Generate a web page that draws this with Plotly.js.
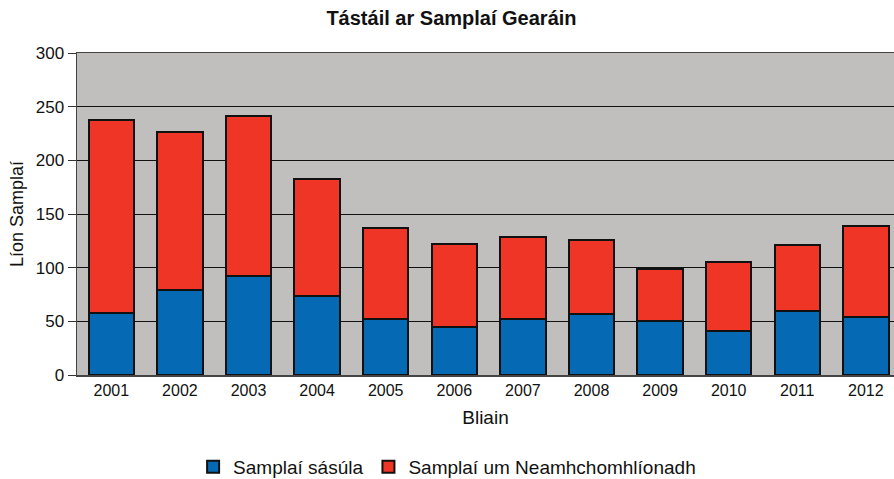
<!DOCTYPE html>
<html>
<head>
<meta charset="utf-8">
<script src="https://cdn.plot.ly/plotly-3.0.1.min.js"></script>
<style>html,body{margin:0;padding:0;background:#fff;}#chart{width:894px;height:479px;}</style>
</head>
<body>
<div id="chart"></div>
<script>
const years = ['2001','2002','2003','2004','2005','2006','2007','2008','2009','2010','2011','2012'];
const satisfactory = [58, 79, 92, 74, 52, 45, 52, 57, 50, 41, 60, 54];
const nonCompliant = [180, 147, 149, 109, 85, 77, 77, 69, 49, 64, 61, 85];
const seriesNames = ['Samplaí sásúla', 'Samplaí um Neamhchomhlíonadh'];
const chartTitle = 'Tástáil ar Samplaí Gearáin';
const xTitle = 'Bliain';
const yTitle = 'Líon Samplaí';

const font = 'Liberation Sans, Arial, sans-serif';
const traces = [
  {type:'bar', x: years, y: satisfactory, name: seriesNames[0], width: 0.66,
   marker:{color:'#0569b3', line:{color:'#111', width:2}}},
  {type:'bar', x: years, y: nonCompliant, name: seriesNames[1], width: 0.66,
   marker:{color:'#ee3526', line:{color:'#111', width:2}}}
];
const layout = {
  width: 894, height: 479,
  barmode: 'stack',
  paper_bgcolor: '#ffffff',
  plot_bgcolor: '#c0bfbd',
  margin: {l: 77, r: 0, t: 53, b: 104, autoexpand: false},
  font: {family: font, color: '#111'},
  title: {text: '<b>' + chartTitle + '</b>', font: {size: 20, family: font, color:'#111'}, x: 0.505, xref: 'container', y: 0.962, yanchor: 'middle'},
  xaxis: {
    type: 'category', range: [-0.5, 11.41], fixedrange: true,
    showline: true, linecolor: '#444', linewidth: 1.5, mirror: true,
    ticks: '', showgrid: false, tickangle: 0,
    tickfont: {size: 16, color:'#111'},
    title: {text: xTitle, font: {size: 19, color:'#111'}, standoff: 13}
  },
  yaxis: {
    range: [0, 300], dtick: 50, fixedrange: true,
    showline: true, linecolor: '#444', linewidth: 1.5,
    ticks: 'outside', ticklen: 8, tickcolor: '#333', tickwidth: 1,
    showgrid: true, gridcolor: '#111', gridwidth: 1,
    zeroline: false,
    tickfont: {size: 17, color:'#111'},
    title: {text: yTitle, font: {size: 18, color:'#111'}, standoff: 7}
  },
  legend: {orientation: 'h', x: 0.453, xref: 'paper', xanchor: 'center', y: -0.2857, yref:'paper', yanchor: 'middle',
    font: {size: 19, color:'#111'}, traceorder: 'normal', itemwidth: 30, itemclick: false},
  showlegend: true
};
Plotly.newPlot('chart', traces, layout, {displayModeBar: false, staticPlot: true});
</script>
</body>
</html>
